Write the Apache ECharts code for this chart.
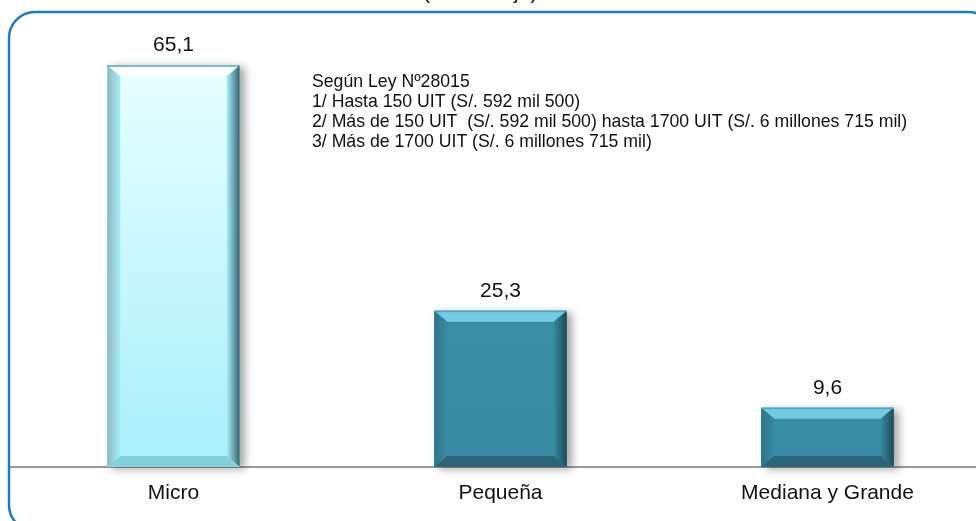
<!DOCTYPE html>
<html>
<head>
<meta charset="utf-8">
<script src="https://cdn.jsdelivr.net/npm/echarts@6/dist/echarts.min.js"></script>
<style>
  html, body { margin: 0; padding: 0; background: #fff; }
  #chart { width: 976px; height: 521px; }
</style>
</head>
<body>
<div id="chart"></div>
<script>
var categories = ['Micro', 'Pequeña', 'Mediana y Grande']
var values = [65.1, 25.3, 9.6]
var noteLines = [
  'Según Ley Nº28015',
  '1/ Hasta 150 UIT (S/. 592 mil 500)',
  '2/ Más de 150 UIT  (S/. 592 mil 500) hasta 1700 UIT (S/. 6 millones 715 mil)',
  '3/ Más de 1700 UIT (S/. 6 millones 715 mil)'
]

// colores de cada barra: cara, bisel sup, izq, der, inf
var palettes = [
  { face: ['#e8ffff', '#a8effb'], top: '#ffffff', left: '#8cb8c0', right: '#33646e', bottom: '#82d2de' },
  { face: ['#3a8ea6', '#378aa2'], top: '#74cce4', left: '#2e7689', right: '#1d4a56', bottom: '#2a6677' },
  { face: ['#3a8ea6', '#378aa2'], top: '#74cce4', left: '#2e7689', right: '#1d4a56', bottom: '#2a6677' }
]

var chart = echarts.init(document.getElementById('chart'))

function renderBar(params, api) {
  var i = params.dataIndex
  var v = api.value(1)
  var base = api.coord([api.value(0), 0])
  var top = api.coord([api.value(0), v])
  var w = api.size([1, 0])[0] * 0.405
  var x0 = base[0] - w / 2, x1 = base[0] + w / 2
  var y0 = top[1], y1 = base[1]
  var bx = 13, by = Math.min(11, (y1 - y0) / 3)
  var p = palettes[i]
  return {
    type: 'group',
    children: [
      {
        type: 'rect',
        shape: { x: x0, y: y0, width: w, height: y1 - y0 },
        style: { fill: p.face[1], shadowBlur: 8, shadowOffsetX: 5, shadowOffsetY: 2, shadowColor: 'rgba(0,0,0,0.35)' }
      },
      {
        type: 'rect',
        shape: { x: x0, y: y0, width: w, height: y1 - y0 },
        style: { fill: new echarts.graphic.LinearGradient(0, 0, 0, 1, [
          { offset: 0, color: p.face[0] }, { offset: 1, color: p.face[1] }]) }
      },
      { type: 'polygon', shape: { points: [[x0, y0], [x1, y0], [x1 - bx, y0 + by], [x0 + bx, y0 + by]] },
        style: { fill: p.top } },
      { type: 'polygon', shape: { points: [[x0, y0], [x0 + bx, y0 + by], [x0 + bx, y1 - by], [x0, y1]] },
        style: { fill: new echarts.graphic.LinearGradient(0, 0, 1, 0, [
          { offset: 0, color: p.left }, { offset: 1, color: p.face[1] }]) } },
      { type: 'polygon', shape: { points: [[x1, y0], [x1 - bx, y0 + by], [x1 - bx, y1 - by], [x1, y1]] },
        style: { fill: new echarts.graphic.LinearGradient(0, 0, 1, 0, [
          { offset: 0, color: p.face[1] }, { offset: 1, color: p.right }]) } },
      { type: 'polygon', shape: { points: [[x0, y1], [x0 + bx, y1 - by], [x1 - bx, y1 - by], [x1, y1]] },
        style: { fill: p.bottom } },
      { type: 'rect', shape: { x: x0, y: y0, width: w, height: 1.5 }, style: { fill: '#4fa6bd' } },
      {
        type: 'text',
        style: {
          text: String(v).replace('.', ','),
          x: base[0], y: y0 - 20,
          align: 'center', verticalAlign: 'middle',
          fontFamily: 'Liberation Sans, Arial', fontSize: 21, fill: '#111'
        }
      }
    ]
  }
}

chart.setOption({
  animation: false,
  grid: { left: 10, width: 981, top: 35, bottom: 54, outerBoundsMode: 'none', containLabel: false },
  xAxis: {
    type: 'category',
    data: categories,
    axisTick: { show: false },
    axisLine: { lineStyle: { color: '#999', width: 2 } },
    axisLabel: { color: '#111', fontSize: 21, fontFamily: 'Liberation Sans, Arial', margin: 16 }
  },
  yAxis: {
    type: 'value',
    min: 0,
    max: 70,
    show: false,
    splitLine: { show: false }
  },
  graphic: [
    {
      type: 'rect',
      shape: { x: 9, y: 12, width: 985, height: 519, r: 26 },
      style: { fill: 'none', stroke: '#1b7bcb', lineWidth: 2.5 },
      z: 10
    },
    {
      type: 'text',
      left: 423, top: -17,
      style: { text: '(Porcentaje)', fontFamily: 'Liberation Sans, Arial', fontSize: 21, fill: '#111' }
    },
    {
      type: 'text',
      left: 312, top: 72,
      style: {
        text: noteLines.join('\n'),
        fontFamily: 'Liberation Sans, Arial',
        fontSize: 19, lineHeight: 20, fill: '#111'
      },
      scaleX: 0.93
    }
  ],
  series: [{
    type: 'custom',
    renderItem: renderBar,
    data: values.map(function (v, i) { return [i, v] })
  }]
})
</script>
</body>
</html>
